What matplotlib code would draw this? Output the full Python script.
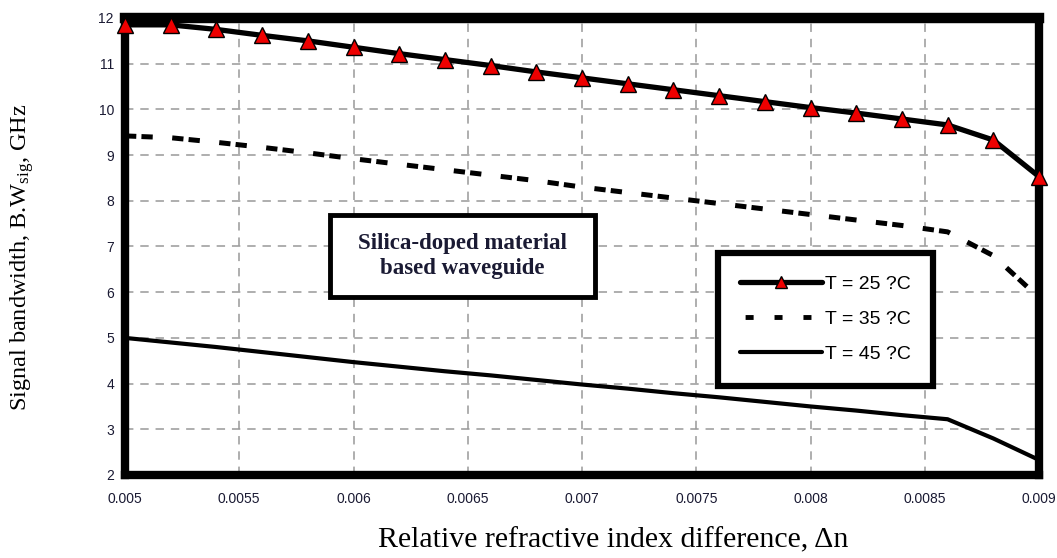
import matplotlib
matplotlib.use('Agg')
import matplotlib.pyplot as plt
from matplotlib.lines import Line2D
from matplotlib.patches import Rectangle

# relative refractive index difference (x) and bandwidth in GHz for each temperature
delta_n = [0.005, 0.0052, 0.0054, 0.0056, 0.0058, 0.006, 0.0062, 0.0064, 0.0066, 0.0068, 0.007,
           0.0072, 0.0074, 0.0076, 0.0078, 0.008, 0.0082, 0.0084, 0.0086, 0.0088, 0.009]
bw_25 = [11.85, 11.85, 11.75, 11.62, 11.5, 11.36, 11.22, 11.09, 10.96, 10.82, 10.69,
         10.56, 10.43, 10.3, 10.17, 10.04, 9.92, 9.79, 9.66, 9.33, 8.53]
bw_35 = [9.42, 9.38, 9.28, 9.17, 9.05, 8.92, 8.8, 8.68, 8.56, 8.44, 8.3,
         8.18, 8.06, 7.94, 7.82, 7.7, 7.58, 7.46, 7.32, 6.8, 5.88]
bw_45 = [5.0, 4.9, 4.8, 4.69, 4.58, 4.47, 4.37, 4.27, 4.18, 4.08, 3.98,
         3.89, 3.79, 3.7, 3.6, 3.5, 3.41, 3.31, 3.22, 2.8, 2.33]
labels = ['T = 25 ?C', 'T = 35 ?C', 'T = 45 ?C']

x_ticks = [0.005, 0.0055, 0.006, 0.0065, 0.007, 0.0075, 0.008, 0.0085, 0.009]
x_tick_labels = ['0.005', '0.0055', '0.006', '0.0065', '0.007', '0.0075', '0.008', '0.0085', '0.009']
y_ticks = [2, 3, 4, 5, 6, 7, 8, 9, 10, 11, 12]

plt.rcParams['mathtext.fontset'] = 'custom'
plt.rcParams['mathtext.rm'] = 'Liberation Serif'
plt.rcParams['mathtext.it'] = 'Liberation Serif:italic'

W, H = 1057, 558
fig = plt.figure(figsize=(W / 100, H / 100), dpi=100)
ax = fig.add_axes([125 / W, 1 - 475 / H, (1039 - 125) / W, (475 - 18) / H])

ax.plot(delta_n, bw_25, color='black', lw=3.8, marker='^', ms=11.5, mfc='#ee0000', mec='black', mew=1,
        solid_capstyle='round', clip_on=False, zorder=4)
ax.plot(delta_n, bw_35, color='black', lw=3.6, linestyle=(0, (2.26, 1.03, 2.26, 3.9)), zorder=3)
ax.plot(delta_n, bw_45, color='black', lw=3.0, solid_capstyle='round', zorder=3)

ax.set_xlim(0.005, 0.009)
ax.set_ylim(2, 12)
ax.set_xticks(x_ticks)
ax.set_xticklabels(x_tick_labels)
ax.set_yticks(y_ticks)
ax.tick_params(length=0, labelsize=10, labelcolor='#1a1a33')
ax.tick_params(axis='x', pad=12)
ax.tick_params(axis='y', pad=8)
for lab in ax.get_xticklabels() + ax.get_yticklabels():
    lab.set_family('Liberation Sans')

ax.grid(True, color='#999999', linestyle=(0, (5.5, 4.5)), linewidth=1.1)
ax.set_axisbelow(True)
for s in ax.spines.values():
    s.set_linewidth(6)
    s.set_capstyle('projecting')
ax.spines['top'].set_linewidth(7.5)

# annotation box
ax.add_patch(Rectangle((330 / W, 1 - 297 / H), 265 / W, 82 / H, transform=fig.transFigure,
                       facecolor='white', edgecolor='black', lw=3.5, clip_on=False, zorder=5))
ax.text(462 / W, 1 - 256 / H, 'Silica-doped material\nbased waveguide', transform=fig.transFigure,
        ha='center', va='center', family='Liberation Serif', weight='bold', size=16.5,
        linespacing=1.2, color='#1a1a33', zorder=6)

# legend
handles = [
    Line2D([], [], color='black', lw=3.8, marker='^', ms=8, mfc='#ee0000', mec='black', mew=1,
           solid_capstyle='round'),
    Line2D([], [], color='black', lw=3.5, linestyle=(4.9, (1.65, 4.3))),
    Line2D([], [], color='black', lw=3.0, solid_capstyle='round'),
]
leg = ax.legend(handles, labels, loc='upper left', bbox_to_anchor=(718 / W, 1 - 253 / H),
                bbox_transform=fig.transFigure, borderaxespad=0, fancybox=False, framealpha=1,
                edgecolor='black', prop={'family': 'Liberation Sans', 'size': 14},
                handlelength=4.2, handletextpad=0.15, labelspacing=0.9, borderpad=1.15)
leg.get_frame().set_linewidth(4.5)
leg.set_zorder(6)

fig.text(613 / W, 1 - 540 / H, 'Relative refractive index difference, \u0394n',
         ha='center', va='center', family='Liberation Serif', size=21.5)
fig.text(22 / W, 1 - 257 / H, 'Signal bandwidth, B.W$_{\\mathrm{sig}}$, GHz', rotation=90,
         ha='center', va='center', family='Liberation Serif', size=17.5)

fig.savefig('out.png', dpi=100)
